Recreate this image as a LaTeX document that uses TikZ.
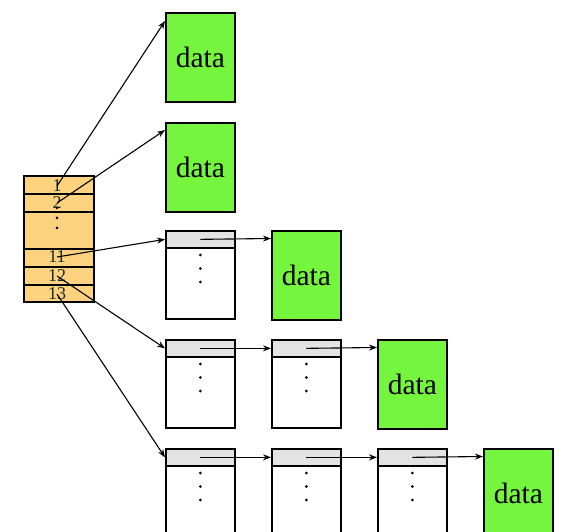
\documentclass[tikz,border=0pt]{standalone}
\usepackage{fontspec}
\setmainfont{Liberation Serif}
\usetikzlibrary{arrows.meta}
\definecolor{dgreen}{RGB}{118,245,62}
\definecolor{hgray}{RGB}{227,227,227}
\definecolor{iorange}{RGB}{255,210,128}
\definecolor{numcol}{RGB}{25,45,40}
\begin{document}
\begin{tikzpicture}[x=1pt,y=-1pt,
 box/.style={draw,line width=1.7pt,minimum width=69pt,inner sep=0pt,anchor=north west},
 datab/.style={box,fill=dgreen,minimum height=89pt,font=\fontsize{29.5}{31}\selectfont},
 hdr/.style={box,fill=hgray,minimum height=17pt},
 bdy/.style={box,fill=white,minimum height=71pt},
 idx/.style={draw,line width=2.4pt,fill=iorange,minimum width=70pt,inner sep=0pt,anchor=north west},
 num/.style={font=\fontsize{18}{18}\selectfont,inner sep=0pt,text=numcol},
 arr/.style={-{Stealth[length=8pt,width=6pt]},line width=1.1pt},
 dot/.style={fill=black},
]
\useasboundingbox (0,0) rectangle (563,532);
\clip (0,0) rectangle (563,532);

% index block
\node[idx,minimum height=18pt] (r1) at (23,175) {};
\node[idx,minimum height=18pt] (r2) at (23,193) {};
\node[idx,minimum height=37pt] (rd) at (23,211) {};
\node[idx,minimum height=18pt] (r11) at (23,248) {};
\node[idx,minimum height=18pt] (r12) at (23,266) {};
\node[idx,minimum height=17pt] (r13) at (23,284) {};
\node[num] (n1) at (57,186) {1};
\node[num] (n2) at (57,203) {2};
\node[num] (n11) at (57,257) {11};
\node[num] (n12) at (57,276) {12};
\node[num] (n13) at (57,294) {13};
\fill[dot] (57,208) circle (1.5);
\fill[dot] (57,218) circle (1.5);
\fill[dot] (57,228) circle (1.5);

% direct data blocks
\node[datab] (d1) at (165,12) {data};
\node[datab] (d2) at (165,122) {data};

% row 3
\node[hdr] (h31) at (165,230) {};
\node[bdy] (b31) at (165,247) {};
\node[datab] (d3) at (271,230) {data};

% row 4
\node[hdr] (h41) at (165,339) {};
\node[bdy] (b41) at (165,356) {};
\node[hdr] (h42) at (271,339) {};
\node[bdy] (b42) at (271,356) {};
\node[datab] (d4) at (377,339) {data};

% row 5
\node[hdr] (h51) at (165,448) {};
\node[bdy] (b51) at (165,465) {};
\node[hdr] (h52) at (271,448) {};
\node[bdy] (b52) at (271,465) {};
\node[hdr] (h53) at (377,448) {};
\node[bdy] (b53) at (377,465) {};
\node[datab] (d5) at (483,448) {data};

% dots in body nodes
\foreach \b in {b31,b41,b42,b51,b52,b53}{
  \fill[dot] ([yshift=-8pt]\b.north) circle (1.5);
  \fill[dot] ([yshift=-21.5pt]\b.north) circle (1.5);
  \fill[dot] ([yshift=-35pt]\b.north) circle (1.5);
}

% index arrows
\draw[arr] (n1.center) -- ([yshift=-9pt]d1.north west);
\draw[arr] (n2.center) -- ([yshift=-8pt]d2.north west);
\draw[arr] (n11.center) -- (h31.west);
\draw[arr] (n12.center) -- (h41.west);
\draw[arr] (n13.center) -- (h51.west);

% chain arrows
\draw[arr] (h31.center) -- ([yshift=-8.5pt]d3.north west);
\draw[arr] (h41.center) -- (h42.west);
\draw[arr] (h42.center) -- ([yshift=-8.5pt]d4.north west);
\draw[arr] (h51.center) -- (h52.west);
\draw[arr] (h52.center) -- (h53.west);
\draw[arr] (h53.center) -- ([yshift=-8.5pt]d5.north west);
\end{tikzpicture}
\end{document}
